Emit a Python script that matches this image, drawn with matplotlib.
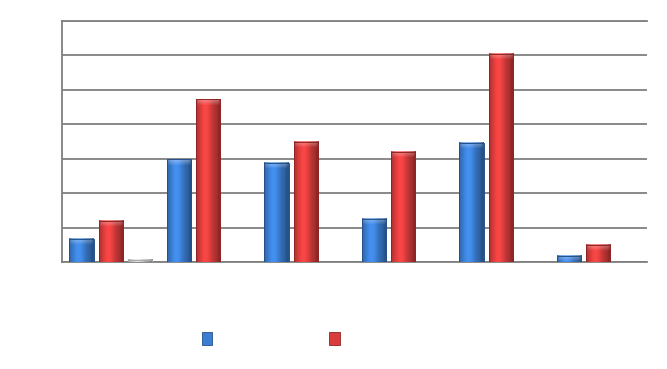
import numpy as np
import matplotlib
matplotlib.use("Agg")
import matplotlib.pyplot as plt
from matplotlib.colors import to_rgb
from matplotlib.patches import Patch, Rectangle

# datos
categories = ["1", "2", "3", "4", "5", "6"]
serie_azul = [0.67, 2.98, 2.87, 1.27, 3.47, 0.19]
serie_roja = [1.20, 4.72, 3.50, 3.19, 6.04, 0.51]
serie_gris = [0.075, 0, 0, 0, 0, 0]

colores = {"azul": "#3b7dd0", "roja": "#d83c3c", "gris": "#c4c4c4"}
bordes = {"azul": "#24508a", "roja": "#8e2424", "gris": "#a8a8a8"}


def bar_gradiente(ax, bars, nombre, px_unit):
    base = np.array(to_rgb(colores[nombre]))
    # perfil horizontal: borde oscuro, brillo a la izquierda del centro
    u = np.linspace(0, 1, 60)
    perfil = 0.74 + 0.42 * np.exp(-((u - 0.38) / 0.3) ** 2)
    perfil[u > 0.88] *= 0.88
    for b in bars:
        h = b.get_height()
        if h <= 0:
            continue
        x0 = b.get_x()
        w = b.get_width()
        ny = max(int(h * px_unit), 2)
        img = np.ones((ny, len(u), 3)) * base
        img = img * perfil[None, :, None]
        # tapa superior mas clara (bisel)
        cap = min(7, ny)
        mezcla = np.linspace(0.35, 0.0, cap)
        for r in range(cap):
            # el bisel se estrecha hacia los lados
            lado = np.clip((np.minimum(u, 1 - u)) / 0.12, 0, 1) ** 0.5
            a = mezcla[r] * lado
            img[r] = img[r] * (1 - a[:, None]) + a[:, None]
        img = np.clip(img, 0, 1)
        ax.imshow(img, extent=(x0, x0 + w, 0, h), aspect="auto",
                  origin="upper", zorder=3, interpolation="bilinear")
        ax.add_patch(Rectangle((x0, 0), w, h, fill=False,
                               edgecolor=bordes[nombre], linewidth=0.7,
                               zorder=4))
        b.set_alpha(0)


fig = plt.figure(figsize=(6.67, 3.69), dpi=100)
ax = fig.add_axes([0.093, 0.289, 0.877, 0.655])

x = np.arange(len(categories))
w = 0.25
b1 = ax.bar(x - 0.3, serie_azul, w, color=colores["azul"], zorder=2)
b2 = ax.bar(x, serie_roja, w, color=colores["roja"], zorder=2)
b3 = ax.bar(x + 0.3, serie_gris, w, color=colores["gris"], zorder=2)

ax.set_xlim(-0.5, len(categories) - 0.5)
ax.set_ylim(0, 7)
px_unit = 242 / 7
bar_gradiente(ax, b1, "azul", px_unit)
bar_gradiente(ax, b2, "roja", px_unit)
bar_gradiente(ax, b3, "gris", px_unit)

ax.set_yticks(np.arange(0, 8))
ax.yaxis.grid(True, color="#808080", linewidth=1.3)
ax.set_axisbelow(True)
ax.tick_params(left=False, bottom=False, labelleft=False, labelbottom=False)
ax.spines["right"].set_visible(False)
for s in ["left", "top", "bottom"]:
    ax.spines[s].set_color("#808080")
    ax.spines[s].set_linewidth(1.3)

handles = [Patch(facecolor=colores["azul"], edgecolor=bordes["azul"], linewidth=0.6),
           Patch(facecolor=colores["roja"], edgecolor=bordes["roja"], linewidth=0.6)]
fig.legend(handles, ["", ""], loc="center", bbox_to_anchor=(0.406, 0.081),
           ncol=2, frameon=False, handlelength=0.75, handleheight=1.0,
           handletextpad=0, columnspacing=8.4, fontsize=10)

fig.savefig("out.png", dpi=100)
